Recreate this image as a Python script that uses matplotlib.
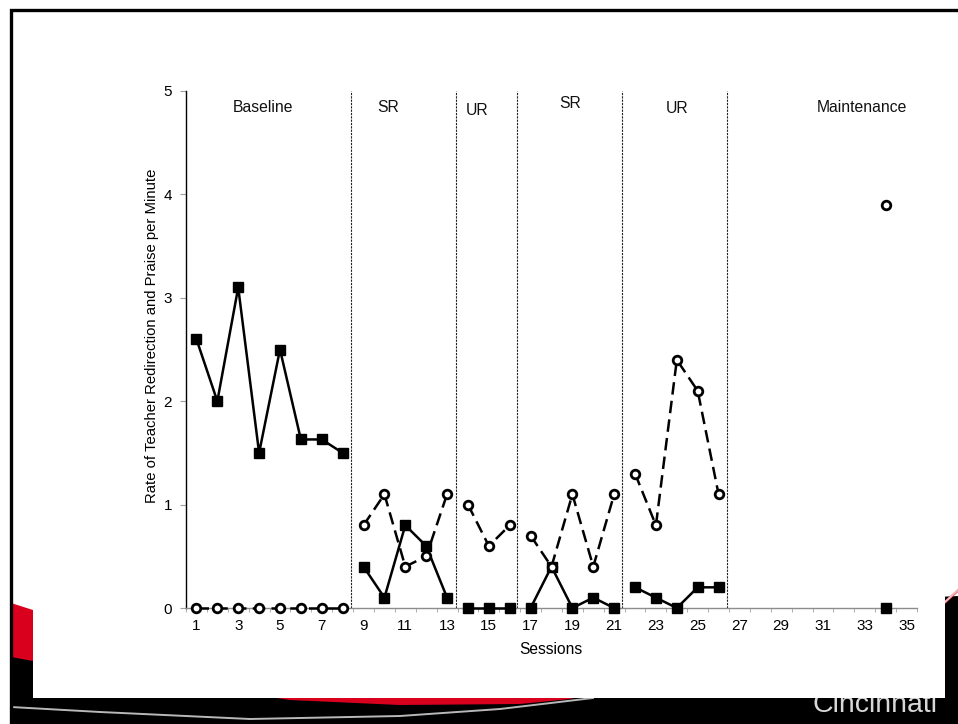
import numpy as np
import matplotlib
matplotlib.use("Agg")
import matplotlib.pyplot as plt
from matplotlib.patches import Polygon, Rectangle

plt.rcParams['font.family'] = ['Liberation Sans', 'DejaVu Sans']

# ---------------- data ----------------
phase_names = ["Baseline", "SR", "UR", "SR", "UR", "Maintenance"]
phase_sessions = [
    [1, 2, 3, 4, 5, 6, 7, 8],
    [9, 10, 11, 12, 13],
    [14, 15, 16],
    [17, 18, 19, 20, 21],
    [22, 23, 24, 25, 26],
    [34],
]
redirection = [
    [2.6, 2.0, 3.1, 1.5, 2.5, 1.63, 1.63, 1.5],
    [0.4, 0.1, 0.8, 0.6, 0.1],
    [0.0, 0.0, 0.0],
    [0.0, 0.4, 0.0, 0.1, 0.0],
    [0.2, 0.1, 0.0, 0.2, 0.2],
    [0.0],
]
praise = [
    [0, 0, 0, 0, 0, 0, 0, 0],
    [0.8, 1.1, 0.4, 0.5, 1.1],
    [1.0, 0.6, 0.8],
    [0.7, 0.4, 1.1, 0.4, 1.1],
    [1.3, 0.8, 2.4, 2.1, 1.1],
    [3.9],
]
phase_changes = [8.4, 13.42, 16.35, 21.38, 26.4]
phase_label_pos = [(4.2, 4.84), (10.2, 4.84), (14.45, 4.81), (18.9, 4.88), (24.0, 4.83), (32.85, 4.84)]
x_ticks = list(range(1, 36, 2))
y_ticks = [0, 1, 2, 3, 4, 5]

W, H = 958, 724
fig = plt.figure(figsize=(W / 100, H / 100), dpi=100)
fig.patch.set_facecolor('white')

# ---------------- slide background ----------------
bg = fig.add_axes([0, 0, 1, 1], zorder=0)
bg.set_xlim(0, W)
bg.set_ylim(H, 0)
bg.axis('off')

bg.add_patch(Polygon([(11, 640), (958, 596), (958, 724), (11, 724)],
                     closed=True, facecolor='black', edgecolor='none', zorder=1))
bg.add_patch(Polygon([(11, 603), (33, 610), (300, 694), (540, 694), (945, 601), (958, 589),
                      (958, 592), (945, 604), (570, 699), (520, 704), (400, 705), (290, 700),
                      (33, 661), (11, 657)],
                     closed=True, facecolor='#d9001e', edgecolor='none', zorder=2))
bg.plot([945, 958], [602, 590], color='#f0b8c0', lw=1.5, zorder=3)
bg.text(813, 712, "Cincinnati", fontsize=20.5, color='#d8d8d8', ha='left', va='baseline',
        zorder=3)
xs = [11, 100, 250, 400, 500, 593]
ys = [707, 712, 719, 716, 709, 698]
bg.plot(xs, ys, color='#b8b8b8', lw=1.4, zorder=3)
bg.add_patch(Rectangle((33, 11), 912, 687, facecolor='white', edgecolor='none', zorder=4))
bg.plot([11, 11, 958], [724, 9.5, 9.5], color='black', lw=2.4, zorder=5,
        solid_joinstyle='miter')

# ---------------- chart ----------------
ax = fig.add_axes([186 / W, 1 - 608 / H, 731 / W, 517 / H], zorder=2)
ax.set_facecolor('none')
ax.set_xlim(0.5, 35.5)
ax.set_ylim(0, 5)

for xc in phase_changes:
    ax.axvline(xc, ymin=0, ymax=1, color='#222222', lw=0.8, ls=(0, (2, 1)), zorder=1)

for name, (px, py) in zip(phase_names, phase_label_pos):
    ax.text(px, py, name, fontsize=11.3, ha='center', va='center', color='#111111')

for s, r, p in zip(phase_sessions, redirection, praise):
    ax.plot(s, r, color='black', lw=1.8, marker='s', markersize=6.5,
            markerfacecolor='black', markeredgecolor='black', zorder=3, clip_on=False)
    ax.plot(s, p, color='black', lw=1.8, dashes=(5, 2.5), marker='o', markersize=6.2,
            markerfacecolor='white', markeredgecolor='black', markeredgewidth=2,
            zorder=4, clip_on=False)

ax.set_xticks(x_ticks)
ax.set_xticklabels([str(t) for t in x_ticks])
ax.set_xticks(np.arange(0.5, 36, 1), minor=True)
ax.tick_params(axis='x', which='major', length=0, pad=8, labelsize=11)
ax.tick_params(axis='x', which='minor', length=3, color='#a0a0a0', direction='out')
ax.set_yticks(y_ticks)
ax.set_yticklabels([str(t) for t in y_ticks])
ax.tick_params(axis='y', length=4, color='#a0a0a0', pad=6, labelsize=11)

for sp in ['top', 'right']:
    ax.spines[sp].set_visible(False)
ax.spines['left'].set_color('black')
ax.spines['left'].set_linewidth(1.0)
ax.spines['bottom'].set_color('#8c8c8c')
ax.spines['bottom'].set_linewidth(1.0)

fig.text(152 / W, 1 - 336 / H, "Rate of Teacher Redirection and Praise per Minute",
         rotation=90, ha='center', va='center', fontsize=10.7)
fig.text(551 / W, 1 - 649 / H, "Sessions", ha='center', va='center', fontsize=11.2)

fig.savefig("out.png", dpi=100, facecolor='white')
